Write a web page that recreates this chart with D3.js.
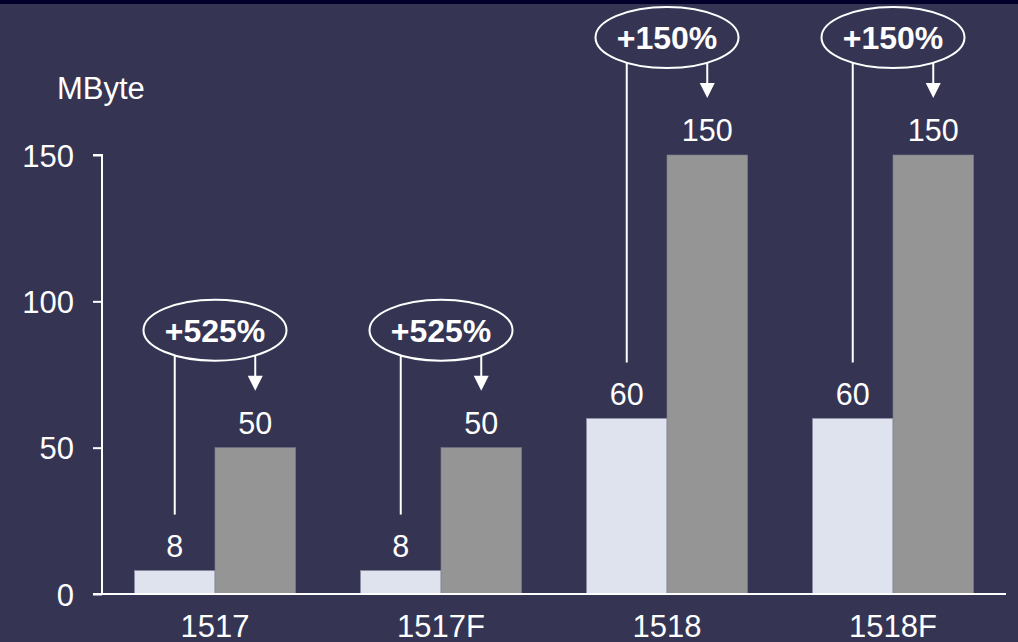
<!DOCTYPE html>
<html>
<head>
<meta charset="utf-8">
<script src="https://cdn.jsdelivr.net/npm/d3@7"></script>
<style>
  html, body { margin: 0; padding: 0; background: #353553; }
  svg { display: block; font-family: "Liberation Sans", Arial, sans-serif; }
</style>
</head>
<body>
<svg id="chart" width="1018" height="642"></svg>
<script>
const categories = ["1517", "1517F", "1518", "1518F"];
const seriesBefore = [8, 8, 60, 60];
const seriesAfter = [50, 50, 150, 150];
const changeLabels = ["+525%", "+525%", "+150%", "+150%"];
const yTicks = [0, 50, 100, 150];
const yUnit = "MByte";

const W = 1018, H = 642;
const bg = "#353553";
const svg = d3.select("#chart");

svg.append("rect").attr("width", W).attr("height", H).attr("fill", bg);
svg.append("rect").attr("width", W).attr("height", 4).attr("fill", "#02002a");

const x0 = d3.scaleBand().domain(categories).range([102, 1006]).padding(0);
const pairW = 161;
const x1 = d3.scaleBand().domain(["before", "after"])
  .range([(x0.bandwidth() - pairW) / 2, (x0.bandwidth() + pairW) / 2]).padding(0);
const y = d3.scaleLinear().domain([0, 150]).range([594, 155]);

// Y axis
const yAxis = d3.axisLeft(y).tickValues(yTicks).tickSize(9).tickPadding(0).tickFormat(d3.format("d"));
const gy = svg.append("g").attr("transform", "translate(102,0)").call(yAxis);
gy.select(".domain").attr("stroke", "#ffffff").attr("stroke-width", 2)
  .attr("d", `M-9,${y(150)}H0V${y(0)}`);
gy.selectAll(".tick line").attr("stroke", "#ffffff").attr("stroke-width", 2);
gy.selectAll(".tick text")
  .attr("fill", "#ffffff").attr("font-size", 31).attr("x", -28)
  .attr("dy", "0.36em").style("font-family", "Liberation Sans, Arial, sans-serif");

svg.append("text").attr("x", 57).attr("y", 99).attr("fill", "#ffffff")
  .attr("font-size", 31).text(yUnit);

// Bars
const groups = svg.append("g").selectAll("g").data(categories).join("g")
  .attr("transform", d => `translate(${x0(d)},0)`);

groups.append("rect")
  .attr("x", x1("before")).attr("width", x1.bandwidth())
  .attr("y", (d, i) => y(seriesBefore[i]))
  .attr("height", (d, i) => y(0) - y(seriesBefore[i]))
  .attr("fill", "#dfe3ee").attr("stroke", "#8a8ea6").attr("stroke-width", 0.6);

groups.append("rect")
  .attr("x", x1("after")).attr("width", x1.bandwidth())
  .attr("y", (d, i) => y(seriesAfter[i]))
  .attr("height", (d, i) => y(0) - y(seriesAfter[i]))
  .attr("fill", "#959595").attr("stroke", "#7d7d8a").attr("stroke-width", 0.6);

// Value labels
groups.append("text")
  .attr("x", x1("before") + x1.bandwidth() / 2)
  .attr("y", (d, i) => y(seriesBefore[i]) - 13.5)
  .attr("text-anchor", "middle").attr("fill", "#ffffff").attr("font-size", 30.5)
  .text((d, i) => seriesBefore[i]);

groups.append("text")
  .attr("x", x1("after") + x1.bandwidth() / 2)
  .attr("y", (d, i) => y(seriesAfter[i]) - 14)
  .attr("text-anchor", "middle").attr("fill", "#ffffff").attr("font-size", 30.5)
  .text((d, i) => seriesAfter[i]);

// Annotations
const ann = groups.append("g");
const cyOf = i => y(seriesAfter[i]) - 117.5;

ann.append("line")
  .attr("x1", x1("before") + x1.bandwidth() / 2).attr("x2", x1("before") + x1.bandwidth() / 2)
  .attr("y1", (d, i) => cyOf(i)).attr("y2", (d, i) => y(seriesBefore[i]) - 56)
  .attr("stroke", "#ffffff").attr("stroke-width", 2);

ann.append("line")
  .attr("x1", x1("after") + x1.bandwidth() / 2).attr("x2", x1("after") + x1.bandwidth() / 2)
  .attr("y1", (d, i) => cyOf(i)).attr("y2", (d, i) => y(seriesAfter[i]) - 70)
  .attr("stroke", "#ffffff").attr("stroke-width", 2);

ann.append("path")
  .attr("d", (d, i) => {
    const cx = x1("after") + x1.bandwidth() / 2;
    const tip = y(seriesAfter[i]) - 57;
    return `M${cx - 7.5},${tip - 15}L${cx + 7.5},${tip - 15}L${cx},${tip}Z`;
  })
  .attr("fill", "#ffffff");

ann.append("ellipse")
  .attr("cx", x0.bandwidth() / 2)
  .attr("cy", (d, i) => cyOf(i))
  .attr("rx", 71.5).attr("ry", 30.5)
  .attr("fill", bg).attr("stroke", "#ffffff").attr("stroke-width", 2);

ann.append("text")
  .attr("x", x0.bandwidth() / 2)
  .attr("y", (d, i) => cyOf(i))
  .attr("dy", "0.36em")
  .attr("text-anchor", "middle").attr("fill", "#ffffff")
  .attr("font-size", 32).attr("font-weight", "bold")
  .text((d, i) => changeLabels[i]);

// X axis
const xAxis = d3.axisBottom(x0).tickSize(0).tickPadding(0);
const gx = svg.append("g").attr("transform", `translate(0,${y(0)})`).call(xAxis);
gx.select(".domain").attr("stroke", "#ffffff").attr("stroke-width", 2)
  .attr("d", `M93,0H1006`);
gx.selectAll(".tick text")
  .attr("fill", "#ffffff").attr("font-size", 31).attr("dy", 0).attr("y", 42.5)
  .style("font-family", "Liberation Sans, Arial, sans-serif");
</script>
</body>
</html>
